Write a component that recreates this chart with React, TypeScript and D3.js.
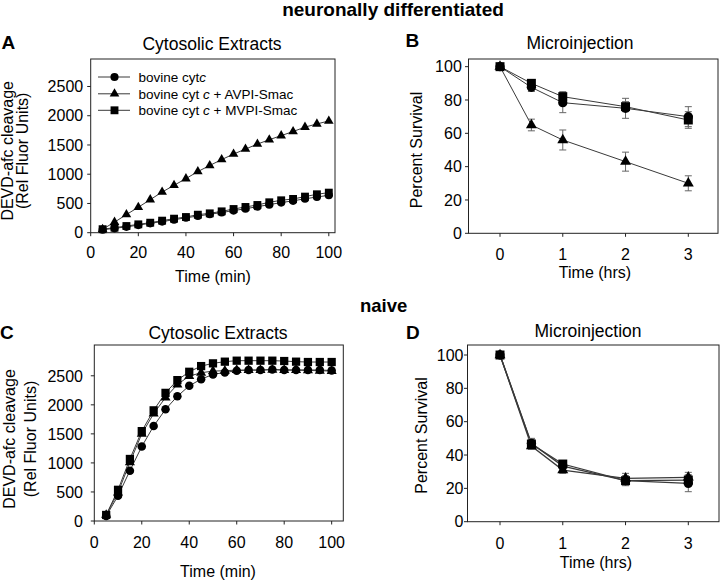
import React from 'react';
import * as d3 from 'd3';

// ---------------- data ----------------
const timeMin = [5, 10, 15, 20, 25, 30, 35, 40, 45, 50, 55, 60, 65, 70, 75, 80, 85, 90, 95, 100];
const timeHrs = [0, 0.5, 1, 2, 3];

// Panel A: neuronally differentiated, cytosolic extracts
const aCyt = [50, 75, 100, 130, 160, 190, 222, 255, 285, 315, 345, 378, 410, 445, 480, 515, 545, 580, 610, 640];
const aAVPI = [60, 180, 310, 435, 565, 695, 810, 925, 1045, 1150, 1250, 1345, 1430, 1515, 1590, 1660, 1730, 1805, 1860, 1910];
const aMVPI = [60, 86, 114, 143, 171, 206, 240, 268, 308, 331, 365, 405, 440, 474, 520, 554, 577, 617, 657, 685];

// Panel B: neuronally differentiated, microinjection
const bCyt = [100, 87.6, 78.4, 75, 70];
const bCytErr = [1, 2.5, 6, 6, 6];
const bAVPI = [100, 65, 56, 43, 30];
const bAVPIErr = [1, 3.5, 6, 5.7, 4.5];
const bMVPI = [100, 90, 82, 76, 68];
const bMVPIErr = [1, 2, 3, 3, 5];

// Panel C: naive, cytosolic extracts
const cCyt = [87, 433, 866, 1282, 1634, 1923, 2148, 2327, 2442, 2523, 2558, 2587, 2598, 2598, 2610, 2600, 2600, 2600, 2600, 2590];
const cAVPI = [104, 491, 1010, 1501, 1848, 2125, 2350, 2494, 2552, 2581, 2587, 2598, 2598, 2598, 2604, 2598, 2598, 2592, 2587, 2581];
const cMVPI = [104, 537, 1068, 1547, 1905, 2206, 2425, 2569, 2667, 2714, 2743, 2760, 2760, 2760, 2760, 2754, 2743, 2737, 2737, 2737];

// Panel D: naive, microinjection
const dCyt = [100, 47, 33.4, 24.6, 23];
const dCytErr = [1, 3, 2, 3, 5];
const dAVPI = [100, 45.4, 31, 26, 26.6];
const dAVPIErr = [1, 2, 2, 3, 3];
const dMVPI = [100, 46.6, 34.6, 24.6, 25];
const dMVPIErr = [1, 3, 2, 2, 3];

const minTicks = [0, 20, 40, 60, 80, 100];
const rfuTicks = [0, 500, 1000, 1500, 2000, 2500];
const hrsTicks = [0, 1, 2, 3];
const pctTicks = [0, 20, 40, 60, 80, 100];

// ---------------- styles ----------------
const FONT = '"Liberation Sans", Arial, Helvetica, sans-serif';
const LINE = '#3a3a3a';
const ERR = '#666';
const AXIS = '#222';

type Shape = 'circle' | 'triangle' | 'square';

const symbolFor: Record<Shape, d3.SymbolType> = {
  circle: d3.symbolCircle,
  triangle: d3.symbolTriangle,
  square: d3.symbolSquare,
};

function symPath(shape: Shape, scale: number) {
  const sizes: Record<Shape, number> = { circle: 52, triangle: 40, square: 62 };
  return d3.symbol().type(symbolFor[shape]).size(sizes[shape] * scale)() as string;
}

type Series = { shape: Shape; values: number[]; errors?: number[] };

type PanelCfg = {
  box: { left: number; top: number; right: number; bottom: number };
  xDomain: [number, number];
  yDomain: [number, number];
  xs: number[];
  xTicks: number[];
  yTicks: number[];
  series: Series[];
  yLabelGap: number;
  xTickBaseline: number;
  title: string;
  titleX: number;
  titleY: number;
  letter: string;
  letterX: number;
  letterY: number;
  yLabels: { text: string; x: number }[];
  yLabelCY: number;
  xLabel: string;
  xLabelX: number;
  xLabelY: number;
  markerScale: number;
  lineWidth: number;
  legend?: boolean;
};

function Panel({ cfg }: { cfg: PanelCfg }) {
  const { box } = cfg;
  const x = d3.scaleLinear().domain(cfg.xDomain).range([box.left, box.right]);
  const y = d3.scaleLinear().domain(cfg.yDomain).range([box.bottom, box.top]);
  const line = d3
    .line<number>()
    .x((_, i) => x(cfg.xs[i]))
    .y((v) => y(v));
  const order: number[] = [0, 1, 2];
  return (
    <g>
      <text x={cfg.letterX} y={cfg.letterY} fontSize={19} fontWeight="bold" fontFamily={FONT}>
        {cfg.letter}
      </text>
      <text x={cfg.titleX} y={cfg.titleY} fontSize={17.5} textAnchor="middle" fontFamily={FONT}>
        {cfg.title}
      </text>
      <rect
        x={box.left}
        y={box.top}
        width={box.right - box.left}
        height={box.bottom - box.top}
        fill="none"
        stroke={AXIS}
        strokeWidth={1}
      />
      {cfg.yTicks.map((t) => (
        <g key={'y' + t}>
          <line x1={box.left - 3.5} x2={box.left} y1={y(t)} y2={y(t)} stroke={AXIS} />
          <text
            x={box.left - cfg.yLabelGap}
            y={y(t)}
            dy="0.36em"
            textAnchor="end"
            fontSize={16}
            fontFamily={FONT}
          >
            {t}
          </text>
        </g>
      ))}
      {cfg.xTicks.map((t) => (
        <g key={'x' + t}>
          <line x1={x(t)} x2={x(t)} y1={box.bottom} y2={box.bottom + 3.5} stroke={AXIS} />
          <text x={x(t)} y={cfg.xTickBaseline} textAnchor="middle" fontSize={16} fontFamily={FONT}>
            {t}
          </text>
        </g>
      ))}
      {cfg.yLabels.map((l) => (
        <text
          key={l.text}
          transform={`translate(${l.x},${cfg.yLabelCY}) rotate(-90)`}
          textAnchor="middle"
          fontSize={16}
          fontFamily={FONT}
        >
          {l.text}
        </text>
      ))}
      <text x={cfg.xLabelX} y={cfg.xLabelY} textAnchor="middle" fontSize={16} fontFamily={FONT}>
        {cfg.xLabel}
      </text>
      {order.map((k) => (
        <path
          key={'l' + k}
          d={line(cfg.series[k].values) as string}
          fill="none"
          stroke={LINE}
          strokeWidth={cfg.lineWidth}
        />
      ))}
      {order.map((k) => {
        const s = cfg.series[k];
        if (!s.errors) return null;
        return (
          <g key={'e' + k} stroke={ERR} strokeWidth={1}>
            {s.values.map((v, i) => {
              const cx = x(cfg.xs[i]);
              const e = s.errors![i];
              const y1 = y(v + e);
              const y2 = y(v - e);
              return (
                <g key={i}>
                  <line x1={cx} x2={cx} y1={y1} y2={y2} />
                  <line x1={cx - 3.5} x2={cx + 3.5} y1={y1} y2={y1} />
                  <line x1={cx - 3.5} x2={cx + 3.5} y1={y2} y2={y2} />
                </g>
              );
            })}
          </g>
        );
      })}
      {order.map((k) => {
        const s = cfg.series[k];
        const p = symPath(s.shape, cfg.markerScale);
        return (
          <g key={'m' + k} fill="#000">
            {s.values.map((v, i) => (
              <path key={i} d={p} transform={`translate(${x(cfg.xs[i])},${y(v)})`} />
            ))}
          </g>
        );
      })}
      {cfg.legend && <Legend />}
    </g>
  );
}

function Legend() {
  const rows: { shape: Shape; cy: number; rest: string }[] = [
    { shape: 'circle', cy: 77, rest: '' },
    { shape: 'triangle', cy: 93.8, rest: ' + AVPI-Smac' },
    { shape: 'square', cy: 110.3, rest: ' + MVPI-Smac' },
  ];
  return (
    <g>
      {rows.map((r, i) => (
        <g key={i}>
          <line x1={98} x2={130} y1={r.cy} y2={r.cy} stroke={LINE} strokeWidth={1} />
          <path d={symPath(r.shape, 1)} transform={`translate(114.5,${r.cy})`} fill="#000" />
          <text x={138.5} y={r.cy + 4.7} fontSize={13.5} fontFamily={FONT}>
            {i === 0 ? 'bovine cyt' : 'bovine cyt '}
            <tspan fontStyle="italic">c</tspan>
            {r.rest}
          </text>
        </g>
      ))}
    </g>
  );
}

const panels: PanelCfg[] = [
  {
    box: { left: 90.7, top: 59, right: 335, bottom: 232.7 },
    xDomain: [0, 102.6],
    yDomain: [0, 2970],
    xs: timeMin,
    xTicks: minTicks,
    yTicks: rfuTicks,
    series: [
      { shape: 'circle', values: aCyt },
      { shape: 'triangle', values: aAVPI },
      { shape: 'square', values: aMVPI },
    ],
    yLabelGap: 7.5,
    xTickBaseline: 258,
    title: 'Cytosolic Extracts',
    titleX: 212,
    titleY: 50,
    letter: 'A',
    letterX: 1.5,
    letterY: 49.3,
    yLabels: [
      { text: 'DEVD-afc cleavage', x: 13.2 },
      { text: '(Rel Fluor Units)', x: 28.2 },
    ],
    yLabelCY: 150.8,
    xLabel: 'Time (min)',
    xLabelX: 213,
    xLabelY: 281.6,
    markerScale: 1,
    lineWidth: 1,
    legend: true,
  },
  {
    box: { left: 468.5, top: 59, right: 718, bottom: 233.3 },
    xDomain: [-0.502, 3.473],
    yDomain: [0, 104.6],
    xs: timeHrs,
    xTicks: hrsTicks,
    yTicks: pctTicks,
    series: [
      { shape: 'circle', values: bCyt, errors: bCytErr },
      { shape: 'triangle', values: bAVPI, errors: bAVPIErr },
      { shape: 'square', values: bMVPI, errors: bMVPIErr },
    ],
    yLabelGap: 6.7,
    xTickBaseline: 260,
    title: 'Microinjection',
    titleX: 580,
    titleY: 48.5,
    letter: 'B',
    letterX: 405.5,
    letterY: 46.7,
    yLabels: [{ text: 'Percent Survival', x: 421.5 }],
    yLabelCY: 150,
    xLabel: 'Time (hrs)',
    xLabelX: 595,
    xLabelY: 278,
    markerScale: 1.3,
    lineWidth: 1,
  },
  {
    box: { left: 94.3, top: 345, right: 343.3, bottom: 521 },
    xDomain: [0, 104.9],
    yDomain: [0, 3030],
    xs: timeMin,
    xTicks: minTicks,
    yTicks: rfuTicks,
    series: [
      { shape: 'circle', values: cCyt },
      { shape: 'triangle', values: cAVPI },
      { shape: 'square', values: cMVPI },
    ],
    yLabelGap: 11.3,
    xTickBaseline: 548,
    title: 'Cytosolic Extracts',
    titleX: 218,
    titleY: 339,
    letter: 'C',
    letterX: 0,
    letterY: 339.3,
    yLabels: [
      { text: 'DEVD-afc cleavage', x: 14.5 },
      { text: '(Rel Fluor Units)', x: 36 },
    ],
    yLabelCY: 439,
    xLabel: 'Time (min)',
    xLabelX: 218,
    xLabelY: 576.5,
    markerScale: 1.1,
    lineWidth: 1,
  },
  {
    box: { left: 467.5, top: 345, right: 719, bottom: 521.7 },
    xDomain: [-0.518, 3.489],
    yDomain: [0, 106],
    xs: timeHrs,
    xTicks: hrsTicks,
    yTicks: pctTicks,
    series: [
      { shape: 'circle', values: dCyt, errors: dCytErr },
      { shape: 'triangle', values: dAVPI, errors: dAVPIErr },
      { shape: 'square', values: dMVPI, errors: dMVPIErr },
    ],
    yLabelGap: 4,
    xTickBaseline: 549.3,
    title: 'Microinjection',
    titleX: 588,
    titleY: 337,
    letter: 'D',
    letterX: 406,
    letterY: 339.3,
    yLabels: [{ text: 'Percent Survival', x: 426.5 }],
    yLabelCY: 435.5,
    xLabel: 'Time (hrs)',
    xLabelX: 596,
    xLabelY: 568,
    markerScale: 1.3,
    lineWidth: 1.3,
  },
];

export default function App() {
  return (
    <svg
      width={720}
      height={581}
      viewBox="0 0 720 581"
      style={{ position: 'absolute', left: 0, top: 0, background: '#fff' }}
      fontFamily={FONT}
    >
      <rect x={0} y={0} width={720} height={581} fill="#fff" />
      <text x={393} y={16} textAnchor="middle" fontSize={19} fontWeight="bold">
        neuronally differentiated
      </text>
      <text x={360} y={311.7} fontSize={18.5} fontWeight="bold">
        naive
      </text>
      {panels.map((p, i) => (
        <Panel key={i} cfg={p} />
      ))}
    </svg>
  );
}
